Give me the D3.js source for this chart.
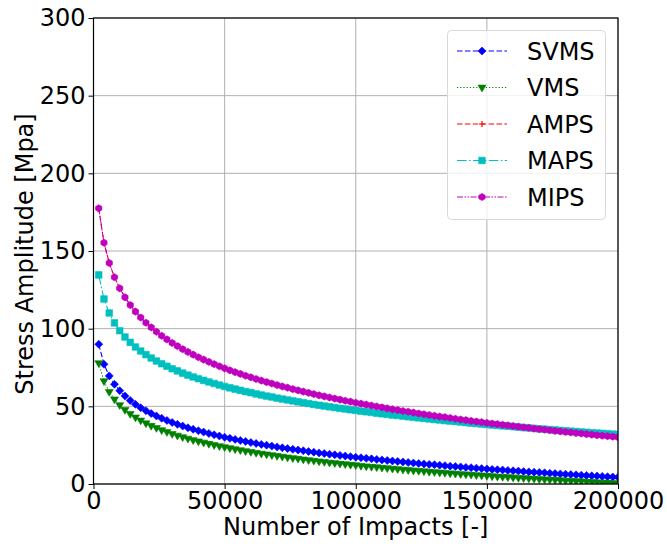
<!DOCTYPE html>
<html><head><meta charset="utf-8">
<script src="https://cdn.jsdelivr.net/npm/d3@7"></script>
<style>body{margin:0;background:#fff}svg{display:block}text{font-family:"DejaVu Sans",sans-serif}</style>
</head><body>
<svg id="c" width="667" height="544"></svg>
<script>
const impacts = [2000,4000,6000,8000,10000,12000,14000,16000,18000,20000,22000,24000,26000,28000,30000,32000,34000,36000,38000,40000,42000,44000,46000,48000,50000,52000,54000,56000,58000,60000,62000,64000,66000,68000,70000,72000,74000,76000,78000,80000,82000,84000,86000,88000,90000,92000,94000,96000,98000,100000,102000,104000,106000,108000,110000,112000,114000,116000,118000,120000,122000,124000,126000,128000,130000,132000,134000,136000,138000,140000,142000,144000,146000,148000,150000,152000,154000,156000,158000,160000,162000,164000,166000,168000,170000,172000,174000,176000,178000,180000,182000,184000,186000,188000,190000,192000,194000,196000,198000,200000];
const svms = [90.0,77.1,69.6,64.2,60.1,56.7,53.8,51.3,49.1,47.2,45.4,43.8,42.3,40.9,39.6,38.4,37.3,36.2,35.2,34.3,33.4,32.5,31.7,30.9,30.1,29.4,28.7,28.0,27.4,26.7,26.1,25.5,25.0,24.4,23.9,23.3,22.8,22.3,21.9,21.4,20.9,20.5,20.0,19.6,19.2,18.8,18.4,18.0,17.6,17.2,16.9,16.5,16.2,15.8,15.5,15.1,14.8,14.5,14.2,13.8,13.5,13.2,12.9,12.6,12.4,12.1,11.8,11.5,11.2,11.0,10.7,10.5,10.2,9.9,9.7,9.4,9.2,9.0,8.7,8.5,8.3,8.0,7.8,7.6,7.4,7.2,6.9,6.7,6.5,6.3,6.1,5.9,5.7,5.5,5.3,5.1,4.9,4.7,4.5,4.3];
const vms = [77.8,66.2,59.3,54.5,50.8,47.7,45.1,42.9,40.9,39.1,37.5,36.1,34.7,33.5,32.3,31.2,30.2,29.2,28.3,27.5,26.7,25.9,25.1,24.4,23.7,23.1,22.4,21.8,21.2,20.7,20.1,19.6,19.1,18.6,18.1,17.6,17.1,16.7,16.3,15.8,15.4,15.0,14.6,14.2,13.8,13.5,13.1,12.8,12.4,12.1,11.7,11.4,11.1,10.8,10.5,10.2,9.9,9.6,9.3,9.0,8.7,8.5,8.2,7.9,7.7,7.4,7.2,6.9,6.7,6.4,6.2,6.0,5.7,5.5,5.3,5.0,4.8,4.6,4.4,4.2,4.0,3.8,3.6,3.4,3.2,3.0,2.8,2.6,2.4,2.2,2.0,1.8,1.7,1.5,1.3,1.1,0.9,0.8,0.6,0.4];
const amps = [177.5,155.3,142.3,133.1,126.0,120.2,115.2,111.0,107.2,103.8,100.8,98.0,95.4,93.1,90.8,88.8,86.8,85.0,83.3,81.6,80.1,78.6,77.2,75.8,74.5,73.2,72.0,70.9,69.7,68.7,67.6,66.6,65.6,64.7,63.7,62.8,62.0,61.1,60.3,59.5,58.7,57.9,57.1,56.4,55.7,55.0,54.3,53.6,53.0,52.3,51.7,51.1,50.5,49.9,49.3,48.7,48.1,47.6,47.0,46.5,46.0,45.4,44.9,44.4,43.9,43.4,43.0,42.5,42.0,41.5,41.1,40.6,40.2,39.8,39.3,38.9,38.5,38.1,37.7,37.3,36.9,36.5,36.1,35.7,35.3,35.0,34.6,34.2,33.9,33.5,33.2,32.8,32.5,32.1,31.8,31.4,31.1,30.8,30.5,30.1];
const maps = [134.6,119.1,110.1,103.7,98.7,94.6,91.2,88.2,85.6,83.3,81.1,79.2,77.4,75.8,74.2,72.8,71.4,70.1,68.9,67.8,66.7,65.7,64.7,63.7,62.8,61.9,61.1,60.3,59.5,58.8,58.0,57.3,56.6,56.0,55.3,54.7,54.1,53.5,52.9,52.3,51.8,51.2,50.7,50.2,49.7,49.2,48.7,48.3,47.8,47.4,46.9,46.5,46.1,45.6,45.2,44.8,44.4,44.1,43.7,43.3,42.9,42.6,42.2,41.9,41.5,41.2,40.8,40.5,40.2,39.9,39.5,39.2,38.9,38.6,38.3,38.0,37.7,37.4,37.2,36.9,36.6,36.3,36.1,35.8,35.5,35.3,35.0,34.8,34.5,34.3,34.0,33.8,33.5,33.3,33.0,32.8,32.6,32.4,32.1,31.9];
const mips = [177.5,155.3,142.3,133.1,126.0,120.2,115.2,111.0,107.2,103.8,100.8,98.0,95.4,93.1,90.8,88.8,86.8,85.0,83.3,81.6,80.1,78.6,77.2,75.8,74.5,73.2,72.0,70.9,69.7,68.7,67.6,66.6,65.6,64.7,63.7,62.8,62.0,61.1,60.3,59.5,58.7,57.9,57.1,56.4,55.7,55.0,54.3,53.6,53.0,52.3,51.7,51.1,50.5,49.9,49.3,48.7,48.1,47.6,47.0,46.5,46.0,45.4,44.9,44.4,43.9,43.4,43.0,42.5,42.0,41.5,41.1,40.6,40.2,39.8,39.3,38.9,38.5,38.1,37.7,37.3,36.9,36.5,36.1,35.7,35.3,35.0,34.6,34.2,33.9,33.5,33.2,32.8,32.5,32.1,31.8,31.4,31.1,30.8,30.5,30.1];
const seriesNames = ["SVMS","VMS","AMPS","MAPS","MIPS"];
const xTicks = [0,50000,100000,150000,200000];
const yTicks = [0,50,100,150,200,250,300];

const styles = {
  SVMS:{color:"#0000ff", dash:"5.5,2.4", marker:"diamond", size:4},
  VMS:{color:"#008000", dash:"1.2,2", marker:"tridown", size:4},
  AMPS:{color:"#ff0000", dash:"5.5,2.4", marker:"plus", size:3},
  MAPS:{color:"#00bfbf", dash:"9.6,2.4,1.5,2.4", marker:"square", size:3.3},
  MIPS:{color:"#bf00bf", dash:"6,1.5,1.5,1.5,1.5,1.5", marker:"hexagon", size:3.6}
};
const dataMap = {SVMS:svms, VMS:vms, AMPS:amps, MAPS:maps, MIPS:mips};

function markerPath(type, s){
  switch(type){
    case "diamond": return `M0,${-s}L${s},0L0,${s}L${-s},0Z`;
    case "square": return `M${-s},${-s}H${s}V${s}H${-s}Z`;
    case "tridown": return `M${-s},${-s*0.6}L${s},${-s*0.6}L0,${s*1.1}Z`;
    case "plus": return `M${-s},0H${s}M0,${-s}V${s}`;
    case "hexagon": {
      let p=[]; for(let i=0;i<6;i++){const a=Math.PI/3*i-Math.PI/2; p.push([s*Math.cos(a),s*Math.sin(a)]);}
      return "M"+p.map(d=>d.join(",")).join("L")+"Z";
    }
  }
}

const svg = d3.select("#c");
const L=93.5, R=618, T=18, B=484;
const x = d3.scaleLinear().domain([0,200000]).range([L,R]);
const y = d3.scaleLinear().domain([0,300]).range([B,T]);

// grid
const g = svg.append("g");
g.selectAll(".vg").data(xTicks).join("line").attr("x1",d=>x(d)).attr("x2",d=>x(d)).attr("y1",T).attr("y2",B).attr("stroke","#b0b0b0").attr("stroke-width",1);
g.selectAll(".hg").data(yTicks).join("line").attr("y1",d=>y(d)).attr("y2",d=>y(d)).attr("x1",L).attr("x2",R).attr("stroke","#b0b0b0").attr("stroke-width",1);

// series
const line = d3.line().x((d,i)=>x(impacts[i])).y(d=>y(d));
svg.append("clipPath").attr("id","clp").append("rect").attr("x",L).attr("y",T).attr("width",R-L).attr("height",B-T);
const sg = svg.append("g").attr("clip-path","url(#clp)");
seriesNames.forEach(n=>{
  const st=styles[n], vals=dataMap[n];
  const gg = sg.append("g");
  gg.append("path").datum(vals).attr("d",line).attr("fill","none").attr("stroke",st.color).attr("stroke-width",1.1).attr("stroke-dasharray",st.dash);
  gg.selectAll("path.m").data(vals).join("path").attr("class","m")
    .attr("transform",(d,i)=>`translate(${x(impacts[i])},${y(d)})`)
    .attr("d",markerPath(st.marker,st.size))
    .attr("fill",st.marker==="plus"?"none":st.color)
    .attr("stroke",st.color).attr("stroke-width",st.marker==="plus"?1.2:0.6);
});

// axes
const fs = 24;
const xa = svg.append("g").attr("transform",`translate(0,${B})`).call(d3.axisBottom(x).tickValues(xTicks).tickFormat(d3.format("d")).tickSizeOuter(0).tickSize(5).tickPadding(3));
const ya = svg.append("g").attr("transform",`translate(${L},0)`).call(d3.axisLeft(y).tickValues(yTicks).tickFormat(d3.format("d")).tickSizeOuter(0).tickSize(5).tickPadding(3));
[xa,ya].forEach(a=>{a.select(".domain").remove(); a.selectAll("text").attr("font-size",fs).attr("font-family","DejaVu Sans").attr("fill","#000"); a.selectAll("line").attr("stroke","#000").attr("stroke-width",1);});
xa.selectAll("text").attr("dy","0.71em");
// spines
svg.append("rect").attr("x",L).attr("y",T).attr("width",R-L).attr("height",B-T).attr("fill","none").attr("stroke","#000").attr("stroke-width",1.2);

svg.append("text").attr("x",(L+R)/2).attr("y",535).attr("text-anchor","middle").attr("font-size",fs).text("Number of Impacts [-]");
svg.append("text").attr("transform",`translate(33,${(T+B)/2+3}) rotate(-90)`).attr("text-anchor","middle").attr("font-size",fs).text("Stress Amplitude [Mpa]");

// legend
const lg = svg.append("g");
lg.append("rect").attr("x",447.5).attr("y",30.5).attr("width",158).attr("height",189).attr("rx",4).attr("fill","#fff").attr("fill-opacity",0.8).attr("stroke","#d9d9d9").attr("stroke-width",1);
seriesNames.forEach((n,i)=>{
  const st=styles[n], yy=51+i*36.5;
  lg.append("line").attr("x1",457).attr("x2",507).attr("y1",yy).attr("y2",yy).attr("stroke",st.color).attr("stroke-width",1.1).attr("stroke-dasharray",st.dash);
  lg.append("path").attr("transform",`translate(482,${yy})`).attr("d",markerPath(st.marker,st.size)).attr("fill",st.marker==="plus"?"none":st.color).attr("stroke",st.color).attr("stroke-width",st.marker==="plus"?1.2:0.6);
  lg.append("text").attr("x",527).attr("y",yy).attr("dy","0.36em").attr("font-size",fs).text(n);
});
</script>
</body></html>
